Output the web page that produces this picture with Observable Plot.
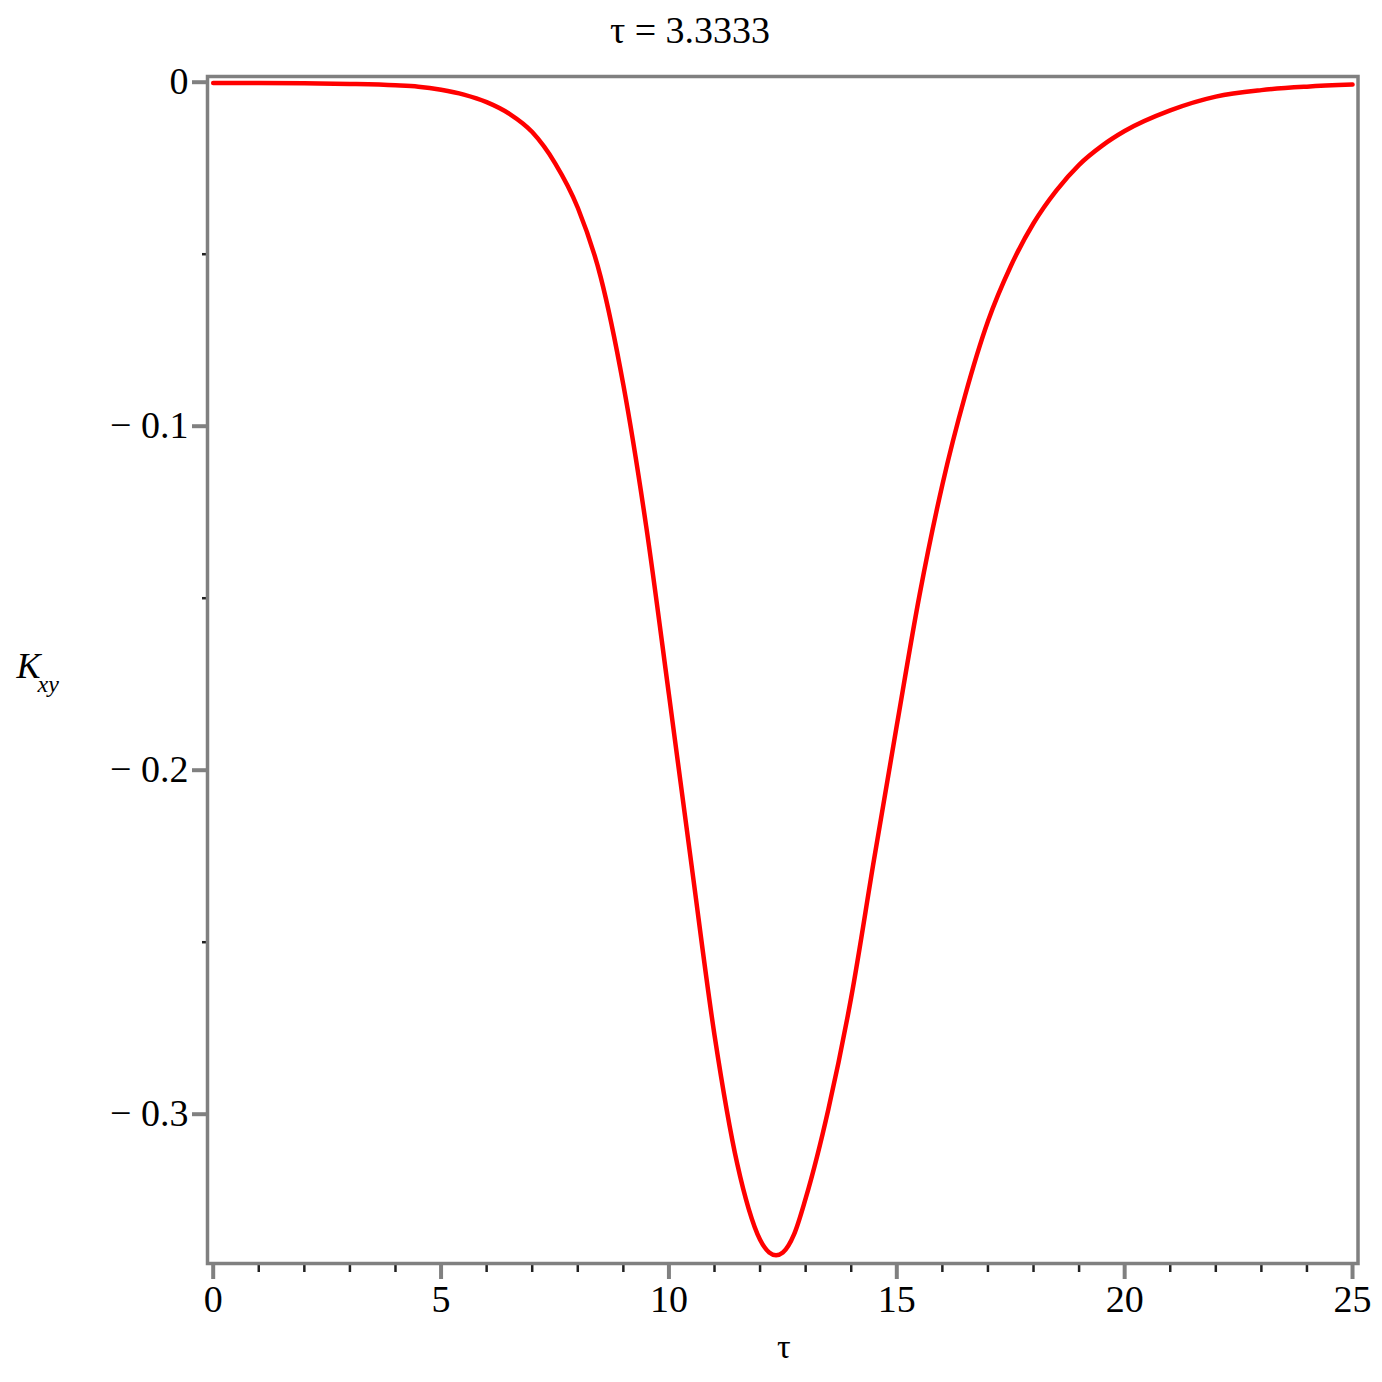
<!DOCTYPE html>
<html>
<head>
<meta charset="utf-8">
<script src="https://cdn.jsdelivr.net/npm/d3@7"></script>
<script src="https://cdn.jsdelivr.net/npm/@observablehq/plot@0.6"></script>
<style>
  html, body { margin: 0; padding: 0; background: #fff; }
  #title { width: 1382px; height: 60px; text-align: center; font-family: "Liberation Serif", serif; font-size: 38px; line-height: 60px; color: #000; }
  #title span { position: relative; left: -1px; }
</style>
</head>
<body>
<div id="title"><span>τ = 3.3333</span></div>
<div id="chart"></div>
<script>
const titleText = "τ = 3.3333";
const tau = [0, 1, 2, 3, 4, 4.5, 5, 5.5, 6, 6.5, 7, 7.5, 8, 8.5, 9, 9.5, 10, 10.5, 11, 11.5, 11.75, 12, 12.2, 12.35, 12.5, 12.75, 13, 13.5, 14, 14.5, 15, 15.5, 16, 16.5, 17, 17.5, 18, 18.5, 19, 19.5, 20, 21, 22, 23, 24, 25];
const kxy = [-0.0002, -0.0002, -0.0003, -0.0005, -0.0009, -0.0013, -0.0022, -0.0036, -0.0058, -0.0092, -0.0145, -0.0235, -0.0365, -0.0565, -0.088, -0.129, -0.178, -0.228, -0.277, -0.3145, -0.3275, -0.3365, -0.3402, -0.341, -0.3402, -0.3348, -0.3245, -0.2985, -0.266, -0.226, -0.187, -0.149, -0.117, -0.091, -0.0695, -0.0535, -0.041, -0.0315, -0.024, -0.0185, -0.0142, -0.0082, -0.0042, -0.0023, -0.0013, -0.0007];
const xMajor = [0, 5, 10, 15, 20, 25];
const xMinor = d3.range(0, 26).filter(d => d % 5 !== 0);
const yMajor = [0, -0.1, -0.2, -0.3];
const yMinor = [-0.05, -0.15, -0.25];
const xLabel = "τ";
const yLabelMain = "K";
const yLabelSub = "xy";

const data = tau.map((t, i) => ({tau: t, k: kxy[i]}));
const fmtY = d => d === 0 ? "0" : "\u2212 " + String(Math.abs(d));

const chart = Plot.plot({
  width: 1382,
  height: 1322,
  marginTop: 16,
  marginBottom: 119,
  marginLeft: 207,
  marginRight: 24.5,
  style: {fontFamily: "Liberation Serif, serif", color: "#000", background: "#fff"},
  x: {domain: [-0.125, 25.12]},
  y: {domain: [-0.3434, 0.00166]},
  marks: [
    Plot.axisX({ticks: xMinor, tickSize: 9, stroke: "#222", strokeWidth: 2.5, text: null, label: null}),
    Plot.axisX({ticks: xMajor, tickSize: 16, stroke: "#808080", strokeWidth: 4, tickPadding: 6, fontSize: 38, tickFormat: d => String(d), label: null}),
    Plot.axisY({ticks: yMinor, tickSize: 5, stroke: "#222", strokeWidth: 2.5, text: null, label: null}),
    Plot.axisY({ticks: yMajor, tickSize: 15, stroke: "#808080", strokeWidth: 4, tickPadding: 4, fontSize: 38, tickFormat: fmtY, label: null}),
    Plot.line(data, {x: "tau", y: "k", stroke: "#ff0000", strokeWidth: 4.5, curve: "monotone-x"}),
    Plot.frame({stroke: "#808080", strokeWidth: 3.5}),
    Plot.text([xLabel], {frameAnchor: "bottom", dy: 94, dx: 1, fontSize: 34, text: d => d}),
    Plot.text([yLabelMain], {frameAnchor: "left", dx: -191, dy: -4, fontSize: 36, fontStyle: "italic", textAnchor: "start", text: d => d}),
    Plot.text([yLabelSub], {frameAnchor: "left", dx: -170, dy: 14, fontSize: 24, fontStyle: "italic", textAnchor: "start", text: d => d})
  ]
});
document.getElementById("chart").appendChild(chart);
</script>
</body>
</html>
